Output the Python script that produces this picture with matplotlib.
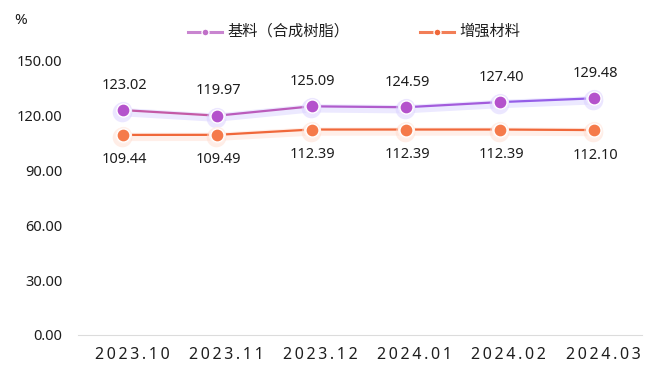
import matplotlib
matplotlib.use('Agg')
import matplotlib.pyplot as plt
from matplotlib.collections import LineCollection
import matplotlib.transforms as mtransforms
import numpy as np

plt.rcParams['font.family'] = ['Noto Sans', 'Noto Sans CJK SC', 'DejaVu Sans']

months = ['2023.10', '2023.11', '2023.12', '2024.01', '2024.02', '2024.03']
jiliao = [123.02, 119.97, 125.09, 124.59, 127.40, 129.48]
zengqiang = [109.44, 109.49, 112.39, 112.39, 112.39, 112.10]
yticks = [0, 30, 60, 90, 120, 150]

orange = '#f0683a'
txt = '#1e1e1e'

fig = plt.figure(figsize=(6.6, 3.73), dpi=100)
ax = fig.add_axes([0.118, 0.102, 0.855, 0.735])

x = np.arange(len(months))

# soft shadow under the lines
shift = mtransforms.offset_copy(ax.transData, fig=fig, x=-1, y=-2, units='dots')
ax.plot(x, jiliao, color='#c9c0ff', lw=6, alpha=0.35, zorder=2, transform=shift)
ax.plot(x, zengqiang, color='#ffd2c0', lw=6, alpha=0.35, zorder=2, transform=shift)

# purple line goes from pink-magenta to violet
pts = np.column_stack([x, jiliao])
segs = [pts[i:i + 2] for i in range(len(x) - 1)]
seg_cols = ['#c45aa6', '#bb5cbc', '#b05ccc', '#a35cdc', '#955ee8']
ax.add_collection(LineCollection(segs, colors=seg_cols, lw=1.6, zorder=3))
ax.plot(x, zengqiang, color=orange, lw=1.6, zorder=3)

ax.scatter(x, jiliao, s=200, color='#d9d0ff', alpha=0.5, lw=0, zorder=4,
           transform=shift)
ax.scatter(x, jiliao, s=130, color='white', edgecolor='#ece6ff', lw=1, zorder=4)
ax.scatter(x, jiliao, s=55, color='#b452cc', zorder=5)
ax.scatter(x, zengqiang, s=200, color='#ffdccf', alpha=0.5, lw=0, zorder=4,
           transform=shift)
ax.scatter(x, zengqiang, s=130, color='white', edgecolor='#fff0ea', lw=1, zorder=4)
ax.scatter(x, zengqiang, s=55, color='#f57a4a', zorder=5)

for i in range(len(months)):
    ax.annotate('%.2f' % jiliao[i], (x[i], jiliao[i]), xytext=(1, 18),
                textcoords='offset points', ha='center', va='center',
                fontsize=10.5, color=txt)
    ax.annotate('%.2f' % zengqiang[i], (x[i], zengqiang[i]), xytext=(1, -18),
                textcoords='offset points', ha='center', va='center',
                fontsize=10.5, color=txt)

ax.set_xlim(-0.48, 5.51)
ax.set_ylim(0, 150)
ax.set_yticks(yticks)
ax.set_yticklabels(['%.2f' % v for v in yticks], fontsize=10.5, color=txt)
ax.set_xticks(x)
ax.set_xticklabels(['\u2009'.join(m) for m in months], fontsize=11.5, color=txt)
ax.tick_params(length=0)
ax.tick_params(axis='x', pad=9)
ax.tick_params(axis='y', pad=11)
for lab in ax.get_xticklabels():
    lab.set_transform(lab.get_transform() +
                      mtransforms.ScaledTranslation(9 / 100, 0, fig.dpi_scale_trans))

for s in ['top', 'right', 'left']:
    ax.spines[s].set_visible(False)
ax.spines['bottom'].set_color('#dcdcdc')

fig.text(0.022, 0.945, '%', fontsize=11, color=txt, va='center')

# legend
lx = [0.285, 0.636]
names = ['基料（合成树脂）', '增强材料']
cols = ['#c070c8', orange]
for xx, nm, c in zip(lx, names, cols):
    fig.add_artist(plt.Line2D([xx, xx + 0.052], [0.914, 0.914], color=c, lw=2.2,
                              alpha=0.85, transform=fig.transFigure))
    fig.add_artist(plt.Line2D([xx + 0.026], [0.914], marker='o', ms=5, color=c,
                              markeredgecolor='white', transform=fig.transFigure))
    fig.text(xx + 0.06, 0.914, nm, fontsize=11, va='center', color=txt)

fig.savefig('out.png', dpi=100)
